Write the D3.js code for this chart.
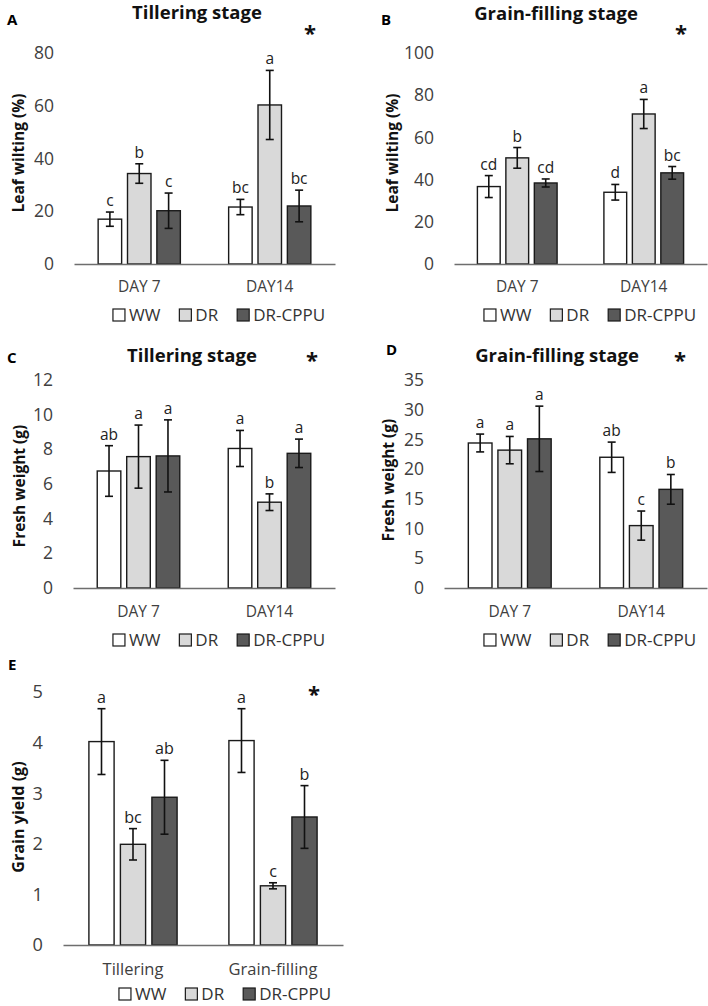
<!DOCTYPE html>
<html><head><meta charset="utf-8">
<script src="https://cdn.jsdelivr.net/npm/d3@7"></script>
<style>
body{margin:0;background:#fff}
svg{display:block}
text{font-family:'Open Sans',sans-serif}
</style>
</head><body>
<script>
// ---------- data ----------
const series = ["WW", "DR", "DR-CPPU"];
const seriesColors = ["#ffffff", "#d9d9d9", "#595959"];
const dayCategories = ["DAY 7", "DAY14"];
const stageCategories = ["Tillering", "Grain-filling"];

// Panel A: leaf wilting (%), tillering stage  (rows = series, cols = categories)
const aMeans   = [[17.0, 21.6], [34.3, 60.3], [20.2, 22.0]];
const aErrors  = [[2.7, 2.9], [3.7, 13.1], [6.7, 6.0]];
const aLetters = [["c", "bc"], ["b", "a"], ["c", "bc"]];
const aTicks   = [0, 20, 40, 60, 80];

// Panel B: leaf wilting (%), grain-filling stage
const bMeans   = [[36.7, 34.0], [50.3, 71.1], [38.4, 43.2]];
const bErrors  = [[5.2, 3.7], [4.9, 6.9], [1.9, 3.0]];
const bLetters = [["cd", "d"], ["b", "a"], ["cd", "bc"]];
const bTicks   = [0, 20, 40, 60, 80, 100];

// Panel C: fresh weight (g), tillering stage
const cMeans   = [[6.75, 8.05], [7.58, 4.95], [7.62, 7.77]];
const cErrors  = [[1.46, 1.04], [1.82, 0.48], [2.08, 0.82]];
const cLetters = [["ab", "a"], ["a", "b"], ["a", "a"]];
const cTicks   = [0, 2, 4, 6, 8, 10, 12];

// Panel D: fresh weight (g), grain-filling stage
const dMeans   = [[24.4, 22.0], [23.2, 10.5], [25.1, 16.6]];
const dErrors  = [[1.5, 2.55], [2.3, 2.45], [5.5, 2.5]];
const dLetters = [["a", "ab"], ["a", "c"], ["a", "b"]];
const dTicks   = [0, 5, 10, 15, 20, 25, 30, 35];

// Panel E: grain yield (g)
const eMeans   = [[4.02, 4.04], [1.99, 1.17], [2.92, 2.53]];
const eErrors  = [[0.65, 0.63], [0.31, 0.06], [0.73, 0.62]];
const eLetters = [["a", "a"], ["bc", "c"], ["ab", "b"]];
const eTicks   = [0, 1, 2, 3, 4, 5];

// ---------- drawing ----------
const W = 708, H = 1006;
const svg = d3.select("body").append("svg").attr("width", W).attr("height", H);

function drawPanel(cfg) {
  const g = svg.append("g");
  const fs = cfg.fs || 1;
  const x0 = d3.scaleBand().domain(cfg.categories).range([cfg.left, cfg.right]);
  const groupW = x0.bandwidth() * 0.63;
  const x1 = d3.scaleBand().domain(series).range([0, groupW]).paddingInner(0.2);
  const off = (x0.bandwidth() - groupW) / 2;
  const y = d3.scaleLinear().domain([0, d3.max(cfg.ticks)]).range([cfg.bottom, cfg.top]);

  // y axis (labels only)
  const ya = g.append("g").attr("transform", `translate(${cfg.left},0)`)
    .call(d3.axisLeft(y).tickValues(cfg.ticks).tickFormat(d3.format("d")).tickSize(0).tickPadding(20));
  ya.select(".domain").remove();
  ya.selectAll("text").attr("font-size", 17.5 * fs).attr("fill", "#404040")
    .style("font-family", "'Open Sans',sans-serif");

  // bars
  const flat = [];
  series.forEach((s, si) => cfg.categories.forEach((c, ci) => {
    flat.push({s, si, c, m: cfg.means[si][ci], e: cfg.errors[si][ci], l: cfg.letters[si][ci]});
  }));
  const cx = d => x0(d.c) + off + x1(d.s) + x1.bandwidth() / 2;

  g.selectAll("rect.bar").data(flat).join("rect").attr("class", "bar")
    .attr("x", d => x0(d.c) + off + x1(d.s))
    .attr("y", d => y(d.m))
    .attr("width", x1.bandwidth())
    .attr("height", d => y(0) - y(d.m))
    .attr("fill", d => seriesColors[d.si])
    .attr("stroke", "#1a1a1a").attr("stroke-width", 1.4);

  // x axis
  const xa = g.append("g").attr("transform", `translate(0,${cfg.bottom})`)
    .call(d3.axisBottom(x0).tickSize(0).tickSizeOuter(0).tickPadding(cfg.catPad));
  xa.select(".domain").attr("stroke", "#6e6e6e").attr("stroke-width", 1.3);
  xa.selectAll("text").attr("font-size", cfg.catFs).attr("fill", "#404040")
    .style("font-family", "'Open Sans',sans-serif");

  // error bars
  const eb = g.selectAll("g.err").data(flat).join("g").attr("class", "err");
  eb.append("line").attr("x1", cx).attr("x2", cx)
    .attr("y1", d => y(d.m - d.e)).attr("y2", d => y(d.m + d.e));
  eb.append("line").attr("x1", d => cx(d) - 4).attr("x2", d => cx(d) + 4)
    .attr("y1", d => y(d.m + d.e)).attr("y2", d => y(d.m + d.e));
  eb.append("line").attr("x1", d => cx(d) - 4).attr("x2", d => cx(d) + 4)
    .attr("y1", d => y(d.m - d.e)).attr("y2", d => y(d.m - d.e));
  eb.selectAll("line").attr("stroke", "#111").attr("stroke-width", 1.6);

  // significance letters
  g.selectAll("text.sig").data(flat).join("text").attr("class", "sig")
    .attr("x", cx).attr("y", d => y(d.m + d.e) - 6)
    .attr("text-anchor", "middle").attr("font-size", 15.5 * fs).attr("fill", "#222")
    .text(d => d.l);

  // y label
  g.append("text")
    .attr("transform", `translate(${cfg.ylabX},${cfg.ylabY}) rotate(-90)`)
    .attr("text-anchor", "middle").attr("dominant-baseline", "central")
    .attr("font-size", 15.5 * fs).attr("font-weight", "bold").attr("fill", "#111")
    .text(cfg.ylabel);

  // title
  if (cfg.title) {
    g.append("text").attr("x", cfg.titleX).attr("y", cfg.titleY)
      .attr("text-anchor", "middle").attr("font-size", 18.5).attr("font-weight", "bold")
      .attr("fill", "#111").text(cfg.title);
  }
  // panel letter
  g.append("text").attr("x", cfg.tagX).attr("y", cfg.tagY)
    .attr("font-size", 15).attr("font-weight", "bold").attr("fill", "#000").text(cfg.tag);
  // asterisk
  g.append("text").attr("x", cfg.starX).attr("y", cfg.starY + 12)
    .attr("text-anchor", "middle").attr("font-size", 22).attr("font-weight", "bold")
    .attr("fill", "#111").text("*");

  // legend (legY = vertical centre of the capitals)
  const lg = g.append("g");
  const lfs = cfg.legFs || 17, sq = 12, gap = 4, sep = 19;
  let xPos = 0;
  series.forEach((s, i) => {
    const it = lg.append("g");
    it.append("rect").attr("x", 0).attr("y", -sq / 2).attr("width", sq).attr("height", sq)
      .attr("fill", seriesColors[i]).attr("stroke", "#1a1a1a").attr("stroke-width", 1.2);
    const t = it.append("text").attr("x", sq + gap).attr("y", lfs * 0.357)
      .attr("font-size", lfs).attr("fill", "#333").text(s);
    const w = t.node().getComputedTextLength();
    it.attr("transform", `translate(${xPos},0)`);
    xPos += sq + gap + w + sep;
  });
  const total = xPos - sep;
  lg.attr("transform", `translate(${cfg.legX - total / 2},${cfg.legY})`);
}

drawPanel({categories: dayCategories, means: aMeans, errors: aErrors, letters: aLetters, ticks: aTicks,
  left: 74, right: 335, top: 53, bottom: 264, catPad: 17, catFs: 15.5,
  ylabel: "Leaf wilting (%)", ylabX: 18, ylabY: 153,
  title: "Tillering stage", titleX: 197, titleY: 19, tag: "A", tagX: 7, tagY: 25,
  starX: 310, starY: 29, legX: 219, legY: 315});

drawPanel({categories: dayCategories, means: bMeans, errors: bErrors, letters: bLetters, ticks: bTicks,
  left: 454, right: 707, top: 53, bottom: 264, catPad: 17, catFs: 15.5,
  ylabel: "Leaf wilting (%)", ylabX: 392, ylabY: 153,
  title: "Grain-filling stage", titleX: 556, titleY: 20, tag: "B", tagX: 381, tagY: 25,
  starX: 681, starY: 29, legX: 590, legY: 315});

drawPanel({categories: dayCategories, means: cMeans, errors: cErrors, letters: cLetters, ticks: cTicks,
  left: 73, right: 335, top: 380, bottom: 588, catPad: 18, catFs: 15.5,
  ylabel: "Fresh weight (g)", ylabX: 18.5, ylabY: 486,
  title: "Tillering stage", titleX: 192, titleY: 362, tag: "C", tagX: 7, tagY: 363,
  starX: 312, starY: 356, legX: 219, legY: 640});

drawPanel({categories: dayCategories, means: dMeans, errors: dErrors, letters: dLetters, ticks: dTicks,
  left: 444, right: 707, top: 380, bottom: 588, catPad: 18, catFs: 15.5,
  ylabel: "Fresh weight (g)", ylabX: 388, ylabY: 480,
  title: "Grain-filling stage", titleX: 557, titleY: 362, tag: "D", tagX: 386, tagY: 355,
  starX: 680, starY: 356, legX: 590, legY: 640});

drawPanel({categories: stageCategories, means: eMeans, errors: eErrors, letters: eLetters, ticks: eTicks,
  left: 63, right: 343, top: 692, bottom: 945, catPad: 18, catFs: 16.5, fs: 1.04,
  ylabel: "Grain yield (g)", ylabX: 17.5, ylabY: 817,
  title: null, tag: "E", tagX: 8, tagY: 670,
  starX: 314, starY: 690, legX: 225, legY: 994, legFs: 17});
</script>
</body></html>
